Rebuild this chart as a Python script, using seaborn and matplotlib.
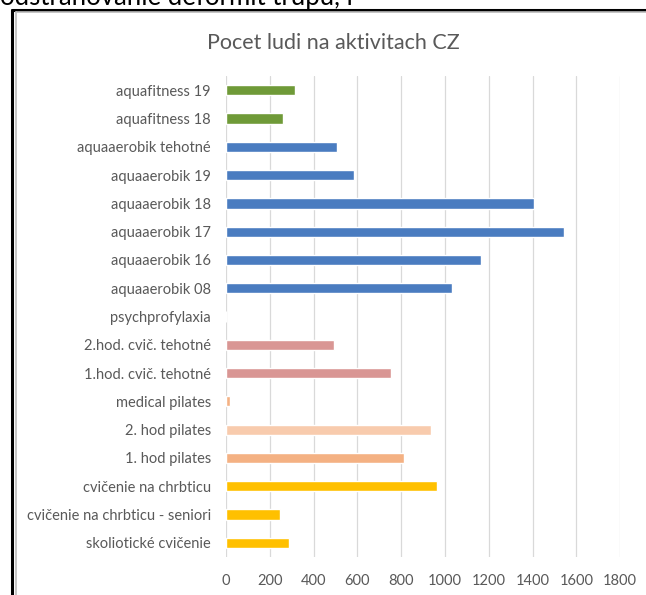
import numpy as np
import pandas as pd
import matplotlib
matplotlib.use("Agg")
import matplotlib.pyplot as plt
from matplotlib.lines import Line2D
import seaborn as sns

# data, top to bottom as in the chart
activities = [
    "aquafitness 19", "aquafitness 18", "aquaaerobik tehotné", "aquaaerobik 19",
    "aquaaerobik 18", "aquaaerobik 17", "aquaaerobik 16", "aquaaerobik 08",
    "psychprofylaxia", "2.hod. cvič. tehotné", "1.hod. cvič. tehotné",
    "medical pilates", "2. hod pilates", "1. hod pilates", "cvičenie na chrbticu",
    "cvičenie na chrbticu - seniori", "skoliotické cvičenie",
]
people = [317, 260, 507, 586, 1408, 1545, 1164, 1032, 0, 491, 753,
          16, 937, 814, 963, 248, 289]
bar_colors = ["#6f9a38", "#6f9a38", "#4a7cc0", "#4a7cc0", "#4a7cc0", "#4a7cc0",
              "#4a7cc0", "#4a7cc0", "#4a7cc0", "#d99694", "#d99694", "#f4b183",
              "#f8cbad", "#f4b183", "#ffc000", "#ffc000", "#ffc000"]
x_ticks = [0, 200, 400, 600, 800, 1000, 1200, 1400, 1600, 1800]

df = pd.DataFrame({"activity": activities, "people": people})

sns.set_theme(style="white")
plt.rcParams["font.family"] = ["Lato", "DejaVu Sans"]

fig = plt.figure(figsize=(6.46, 5.95), dpi=100)
ax = fig.add_axes([0.350, 0.064, 0.610, 0.808])

sns.barplot(data=df, x="people", y="activity", hue="activity",
            palette=bar_colors, order=activities, hue_order=activities,
            dodge=False, legend=False, width=0.36, saturation=1, ax=ax)

ax.set_xlim(0, 1800)
ax.set_xticks(x_ticks)
ax.xaxis.grid(True, color="#d9d9d9", linewidth=0.9)
ax.set_axisbelow(True)
for s in ax.spines.values():
    s.set_visible(False)
ax.set_xlabel("")
ax.set_ylabel("")
ax.tick_params(axis="both", length=0, labelsize=10.5, labelcolor="#595959")
ax.tick_params(axis="x", pad=12)
ax.tick_params(axis="y", pad=11)

fig.text(0.516, 0.928, "Pocet ludi na aktivitach CZ", ha="center", va="center",
         fontsize=15.5, color="#595959")

# screenshot frame and text above it, cut by the top edge as in the screenshot
fig.text(0.0, 1.004, "odstraňovanie deformít trupu, r", ha="left", va="center",
         fontsize=18.5, color="black")
fig.add_artist(Line2D([0.019, 0.019], [0.0, 0.984], color="black", linewidth=2.2))
fig.add_artist(Line2D([0.019, 1.0], [0.984, 0.984], color="black", linewidth=2.2))
fig.add_artist(Line2D([0.024, 0.024], [0.0, 0.979], color="#bbbbbb", linewidth=1.2))
fig.add_artist(Line2D([0.024, 1.0], [0.979, 0.979], color="#bbbbbb", linewidth=1.2))

fig.savefig("out.png", dpi=100)
